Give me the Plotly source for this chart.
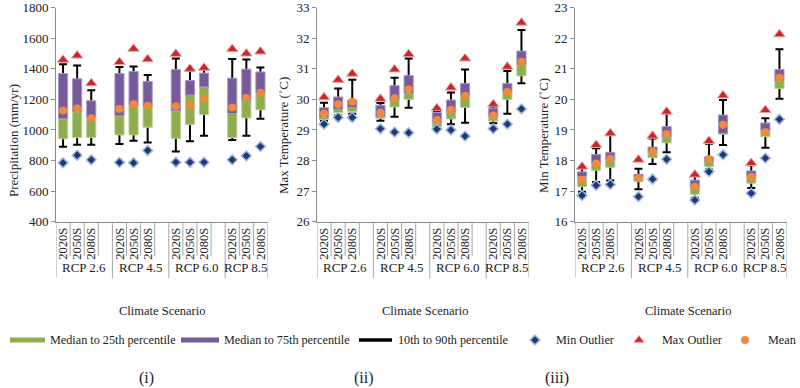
import plotly.graph_objects as go

# ---------------- data ----------------
scenarios = ["RCP 2.6", "RCP 4.5", "RCP 6.0", "RCP 8.5"]
periods = ["2020S", "2050S", "2080S"]

# (i) Precipitation (mm/yr) – order: RCP2.6(2020S,2050S,2080S), RCP4.5(...), RCP6.0(...), RCP8.5(...)
precip_p10 = [890, 903, 903, 908, 929, 918, 859, 927, 962, 935, 962, 1073]
precip_p25 = [942, 951, 951, 968, 968, 1018, 944, 1036, 1101, 951, 1079, 1132]
precip_med = [1073, 1119, 1084, 1092, 1162, 1156, 1125, 1228, 1282, 1108, 1195, 1243]
precip_p75 = [1369, 1335, 1191, 1369, 1383, 1317, 1396, 1324, 1372, 1339, 1398, 1380]
precip_p90 = [1430, 1422, 1260, 1412, 1415, 1359, 1468, 1387, 1398, 1465, 1461, 1409]
precip_mean = [1128, 1140, 1077, 1138, 1169, 1158, 1156, 1164, 1206, 1147, 1210, 1243]
precip_min = [785, 835, 805, 788, 785, 866, 789, 789, 789, 805, 831, 892]
precip_max = [1459, 1487, 1306, 1444, 1531, 1463, 1498, 1400, 1407, 1529, 1500, 1513]

# (ii) Max temperature (°C)
tmax_p10 = [29.30, 29.48, 29.53, 29.30, 29.43, 29.73, 29.10, 29.19, 29.24, 29.22, 29.53, 30.53]
tmax_p25 = [29.34, 29.57, 29.61, 29.38, 29.75, 30.00, 29.11, 29.36, 29.74, 29.29, 30.00, 30.77]
tmax_med = [29.41, 29.68, 29.74, 29.43, 29.98, 30.20, 29.24, 29.58, 30.12, 29.43, 30.25, 31.13]
tmax_p75 = [29.73, 30.08, 29.98, 29.81, 30.45, 30.78, 29.57, 29.98, 30.52, 29.71, 30.52, 31.58]
tmax_p90 = [29.89, 30.36, 30.64, 29.88, 30.71, 31.34, 29.62, 30.23, 30.98, 29.76, 30.93, 32.27]
tmax_mean = [29.53, 29.84, 29.92, 29.56, 30.04, 30.33, 29.33, 29.66, 30.12, 29.47, 30.24, 31.23]
tmax_min = [29.19, 29.41, 29.41, 29.04, 28.93, 28.91, 29.03, 29.00, 28.80, 29.04, 29.19, 29.69]
tmax_max = [30.07, 30.64, 30.84, 30.02, 30.98, 31.48, 29.71, 30.39, 31.34, 29.84, 31.07, 32.51]

# (iii) Min temperature (°C)
tmin_p10 = [16.98, 17.30, 17.35, 17.06, 17.89, 18.27, 16.78, 17.71, 18.51, 17.10, 18.42, 20.02]
tmin_p25 = [17.14, 17.68, 17.78, 17.31, 18.09, 18.58, 16.90, 17.80, 18.86, 17.26, 18.78, 20.36]
tmin_med = [17.47, 17.91, 18.02, 17.47, 18.29, 18.78, 17.12, 17.96, 18.89, 17.47, 18.98, 20.60]
tmin_p75 = [17.63, 18.20, 18.27, 17.55, 18.44, 19.11, 17.36, 18.12, 19.49, 17.66, 19.23, 20.98]
tmin_p90 = [17.75, 18.40, 18.85, 17.73, 18.72, 19.55, 17.52, 18.55, 19.98, 17.85, 19.38, 21.64]
tmin_mean = [17.37, 17.90, 18.06, 17.42, 18.29, 18.87, 17.14, 18.05, 19.17, 17.47, 18.93, 20.71]
tmin_min = [16.86, 17.19, 17.22, 16.82, 17.39, 18.04, 16.71, 17.64, 18.19, 16.93, 18.08, 19.35]
tmin_max = [17.80, 18.51, 18.89, 18.03, 18.81, 19.60, 17.54, 18.64, 20.13, 17.92, 19.65, 22.13]

y_titles = ["Precipitation (mm/yr)", "Max Temperature (˚C)", "Min Temperature (˚C)"]
y_ranges = [[400, 1800], [26, 33], [16, 23]]
y_dticks = [200, 1, 1]
x_title = "Climate Scenario"
panel_labels = ["(i)", "(ii)", "(iii)"]
legend_labels = ["Median to 25th percentile", "Median to 75th percentile",
                 "10th to 90th percentile", "Min Outlier", "Max Outlier", "Mean"]

# ---------------- style ----------------
FONT = "Liberation Serif, Times New Roman, serif"
GREEN = "#8DAD4E"
GREEN_EDGE = "#B9CF8C"
PURPLE = "#765A9B"
PURPLE_EDGE = "#A996C4"
ORANGE = "#EF8A3C"
RED = "#C9272B"
RED_EDGE = "#EFA3A3"
NAVY = "#1F3A6E"
NAVY_EDGE = "#9DB7E2"
AXIS_GREY = "#8C8C8C"
W, H = 800, 388

panels = [
    dict(p10=precip_p10, p25=precip_p25, med=precip_med, p75=precip_p75, p90=precip_p90,
         mean=precip_mean, mn=precip_min, mx=precip_max),
    dict(p10=tmax_p10, p25=tmax_p25, med=tmax_med, p75=tmax_p75, p90=tmax_p90,
         mean=tmax_mean, mn=tmax_min, mx=tmax_max),
    dict(p10=tmin_p10, p25=tmin_p25, med=tmin_med, p75=tmin_p75, p90=tmin_p90,
         mean=tmin_mean, mn=tmin_min, mx=tmin_max),
]

n_slot = len(periods) + 1  # blank slot between scenario groups
slot_x = [g * n_slot + i for g in range(len(scenarios)) for i in range(len(periods))]
tick_text = [p for _ in scenarios for p in periods]
x_range = [-0.5, slot_x[-1] + 0.5]

# panel geometry in pixels
px_left = [56, 317, 575]
slot_px = 14.1
plot_top, plot_bot = 7.7, 221.7
short_bot, long_bot = 256, 278


def py(v):
    return 1 - v / H


BOX_W = 0.65
fig = go.Figure()

for k, d in enumerate(panels):
    sfx = "" if k == 0 else str(k + 1)
    xa, ya = "x" + sfx, "y" + sfx
    # whiskers (drawn first, behind boxes)
    fig.add_trace(go.Bar(
        x=slot_x, y=d["p90"], width=BOX_W, xaxis=xa, yaxis=ya,
        marker=dict(color="rgba(0,0,0,0)", line=dict(width=0)),
        showlegend=False, hoverinfo="skip",
        error_y=dict(type="data", symmetric=False, array=[0] * len(slot_x),
                     arrayminus=[h - l for h, l in zip(d["p90"], d["p10"])],
                     color="black", thickness=2, width=4)))
    # median to 25th
    fig.add_trace(go.Bar(
        x=slot_x, y=[m - q for m, q in zip(d["med"], d["p25"])], base=d["p25"],
        width=BOX_W, xaxis=xa, yaxis=ya, showlegend=False,
        marker=dict(color=GREEN, line=dict(color=GREEN_EDGE, width=1))))
    # median to 75th
    fig.add_trace(go.Bar(
        x=slot_x, y=[q - m for q, m in zip(d["p75"], d["med"])], base=d["med"],
        width=BOX_W, xaxis=xa, yaxis=ya, showlegend=False,
        marker=dict(color=PURPLE, line=dict(color=PURPLE_EDGE, width=1))))
    # max outlier
    fig.add_trace(go.Scatter(
        x=slot_x, y=d["mx"], mode="markers", xaxis=xa, yaxis=ya, showlegend=False,
        marker=dict(symbol="triangle-up", size=10, color=RED, line=dict(color=RED_EDGE, width=1))))
    # min outlier
    fig.add_trace(go.Scatter(
        x=slot_x, y=d["mn"], mode="markers", xaxis=xa, yaxis=ya, showlegend=False,
        marker=dict(symbol="diamond", size=7.5, color=NAVY, line=dict(color=NAVY_EDGE, width=1.5))))
    # mean
    fig.add_trace(go.Scatter(
        x=slot_x, y=d["mean"], mode="markers", xaxis=xa, yaxis=ya, showlegend=False,
        marker=dict(symbol="circle", size=8, color=ORANGE, line=dict(width=0))))

    left = px_left[k]
    right = left + slot_px * (x_range[1] - x_range[0])
    fig.update_layout(**{
        "xaxis" + sfx: dict(domain=[left / W, right / W], range=x_range, anchor=ya,
                            tickvals=slot_x, ticktext=tick_text, tickangle=-90,
                            tickfont=dict(family=FONT, size=12.5, color="#222"),
                            showline=True, linecolor=AXIS_GREY, ticks="",
                            showgrid=False, zeroline=False, fixedrange=True),
        "yaxis" + sfx: dict(domain=[py(plot_bot), py(plot_top)], range=y_ranges[k],
                            dtick=y_dticks[k], anchor=xa, showline=True,
                            linecolor=AXIS_GREY, ticks="outside", ticklen=4,
                            tickcolor=AXIS_GREY,
                            tickfont=dict(family=FONT, size=13, color="#222"),
                            showgrid=False, zeroline=False, fixedrange=True),
    })

    # category cell separators
    group_bounds = [x_range[0]] + [g * n_slot + len(periods) + 0.5 for g in range(len(scenarios) - 1)] + [x_range[1]]
    b = x_range[0]
    while b <= x_range[1] + 1e-9:
        is_group = any(abs(b - gb) < 1e-9 for gb in group_bounds)
        fig.add_shape(type="line", xref=xa, yref="paper", x0=b, x1=b,
                      y0=py(plot_bot), y1=py(long_bot if is_group else short_bot),
                      line=dict(color="#A6A6A6", width=1))
        b += 1
    # scenario labels
    for g, s in enumerate(scenarios):
        lo = group_bounds[g]
        hi = group_bounds[g + 1]
        fig.add_annotation(x=(lo + hi) / 2, y=py(267.5), xref=xa, yref="paper",
                           text=s, showarrow=False, xanchor="center", yanchor="middle",
                           font=dict(family=FONT, size=13, color="#222"))

# y-axis titles
ytitle_pos = [(13, 141), (283, 136), (543, 136)]
for t, (xp, yp) in zip(y_titles, ytitle_pos):
    fig.add_annotation(x=xp / W, y=py(yp), xref="paper", yref="paper", text=t,
                       textangle=-90, showarrow=False, xanchor="center", yanchor="middle",
                       font=dict(family=FONT, size=13, color="#222"))

# x titles and panel labels
for xc, lab, xl in zip([162, 425, 688], panel_labels, [146, 364, 557]):
    fig.add_annotation(x=xc / W, y=py(311), xref="paper", yref="paper", text=x_title,
                       showarrow=False, xanchor="center", yanchor="middle",
                       font=dict(family=FONT, size=12.5, color="#222"))
    fig.add_annotation(x=xl / W, y=py(378), xref="paper", yref="paper", text=lab,
                       showarrow=False, xanchor="center", yanchor="middle",
                       font=dict(family=FONT, size=16, color="#222"))

# ---------------- legend (manual, along the bottom) ----------------
fig.update_layout(
    xaxis4=dict(domain=[0, 1], range=[0, W], visible=False, fixedrange=True, anchor="y4"),
    yaxis4=dict(domain=[py(350), py(330)], range=[0, 1], visible=False, fixedrange=True, anchor="x4"),
)
swatches = [(10, 45, GREEN, 5), (181, 219, PURPLE, 5), (359, 392, "black", 3.5)]
for x0, x1, c, hgt in swatches:
    fig.add_shape(type="rect", xref="x4", yref="paper", x0=x0, x1=x1,
                  y0=py(340 + hgt / 2), y1=py(340 - hgt / 2),
                  fillcolor=c, line=dict(width=0))
legend_markers = [(535, "diamond", 7.5, NAVY, NAVY_EDGE, 1.5),
                  (639, "triangle-up", 9, RED, RED_EDGE, 1),
                  (745, "circle", 8, ORANGE, ORANGE, 0)]
for xm, sym, sz, c, lc, lw in legend_markers:
    fig.add_trace(go.Scatter(x=[xm], y=[0.5], xaxis="x4", yaxis="y4", mode="markers",
                             showlegend=False, hoverinfo="skip",
                             marker=dict(symbol=sym, size=sz, color=c, line=dict(color=lc, width=lw))))
for xt, lab in zip([48, 222, 396, 554, 660, 766], legend_labels):
    fig.add_annotation(x=xt, y=0.5, xref="x4", yref="y4", text=lab, showarrow=False,
                       xanchor="left", yanchor="middle",
                       font=dict(family=FONT, size=12.2, color="#222"))

fig.update_layout(
    template="none",
    width=W, height=H, margin=dict(l=0, r=0, t=0, b=0),
    barmode="overlay", paper_bgcolor="white", plot_bgcolor="white",
    showlegend=False, font=dict(family=FONT, size=13, color="#222"),
)

fig.write_html("out.html", config={"displayModeBar": False},
               post_script="document.body.style.margin='0px';")
